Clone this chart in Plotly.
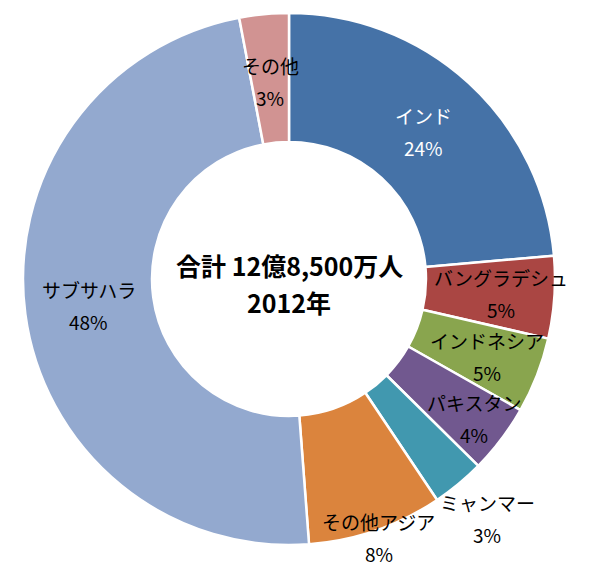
import math
import plotly.graph_objects as go

# ---- data ----
regions = ["インド", "バングラデシュ", "インドネシア", "パキスタン", "ミャンマー",
           "その他アジア", "サブサハラ", "その他"]
shares = [23.6, 5.0, 4.6, 4.2, 3.2, 8.2, 48.2, 3.0]
colors = ["#4572A7", "#AA4643", "#89A54E", "#71588F", "#4198AF",
          "#DB843D", "#93A9CF", "#D19392"]
center_lines = ["合計 12億8,500万人", "2012年"]

# ---- layout constants ----
W, H = 600, 580
CX, CY, R = 289, 279, 266
HOLE = 0.515
label_radius = [0.75, 0.80, 0.80, 0.87, 1.17, 1.03, 0.76, 0.745]
label_colors = ["white"] + ["black"] * 7
FONT = "Noto Sans CJK JP"
LBL_SIZE = 19
LINE_GAP = 16

fig = go.Figure(go.Pie(
    labels=regions,
    values=shares,
    sort=False,
    direction="clockwise",
    rotation=0,
    hole=HOLE,
    marker=dict(colors=colors, line=dict(color="white", width=2.5)),
    textinfo="none",
    hoverinfo="label+percent",
    domain=dict(x=[(CX - R) / W, (CX + R) / W],
                y=[1 - (CY + R) / H, 1 - (CY - R) / H]),
    showlegend=False,
))

total = sum(shares)
annotations = []
cum = 0.0
for name, v, rf, lc in zip(regions, shares, label_radius, label_colors):
    mid = (cum + v / 2) / total * 2 * math.pi
    cum += v
    px = CX + rf * R * math.sin(mid)
    py = CY - rf * R * math.cos(mid)
    pct = f"{round(v / total * 100):d}%"
    for txt, dy in ((name, -LINE_GAP), (pct, LINE_GAP)):
        annotations.append(dict(
            x=px / W, y=1 - (py + dy) / H, xref="paper", yref="paper",
            text=txt, showarrow=False, xanchor="center", yanchor="middle",
            font=dict(family=FONT, size=LBL_SIZE, color=lc)))

for i, line in enumerate(center_lines):
    annotations.append(dict(
        x=CX / W, y=1 - (CY - 14 + i * 37) / H, xref="paper", yref="paper",
        text=f"<b>{line}</b>", showarrow=False, xanchor="center", yanchor="middle",
        font=dict(family=FONT, size=25, color="black")))

fig.update_layout(
    width=W, height=H,
    margin=dict(l=0, r=0, t=0, b=0),
    paper_bgcolor="white", plot_bgcolor="white",
    annotations=annotations,
    font=dict(family=FONT),
)

fig.write_html("out.html")
